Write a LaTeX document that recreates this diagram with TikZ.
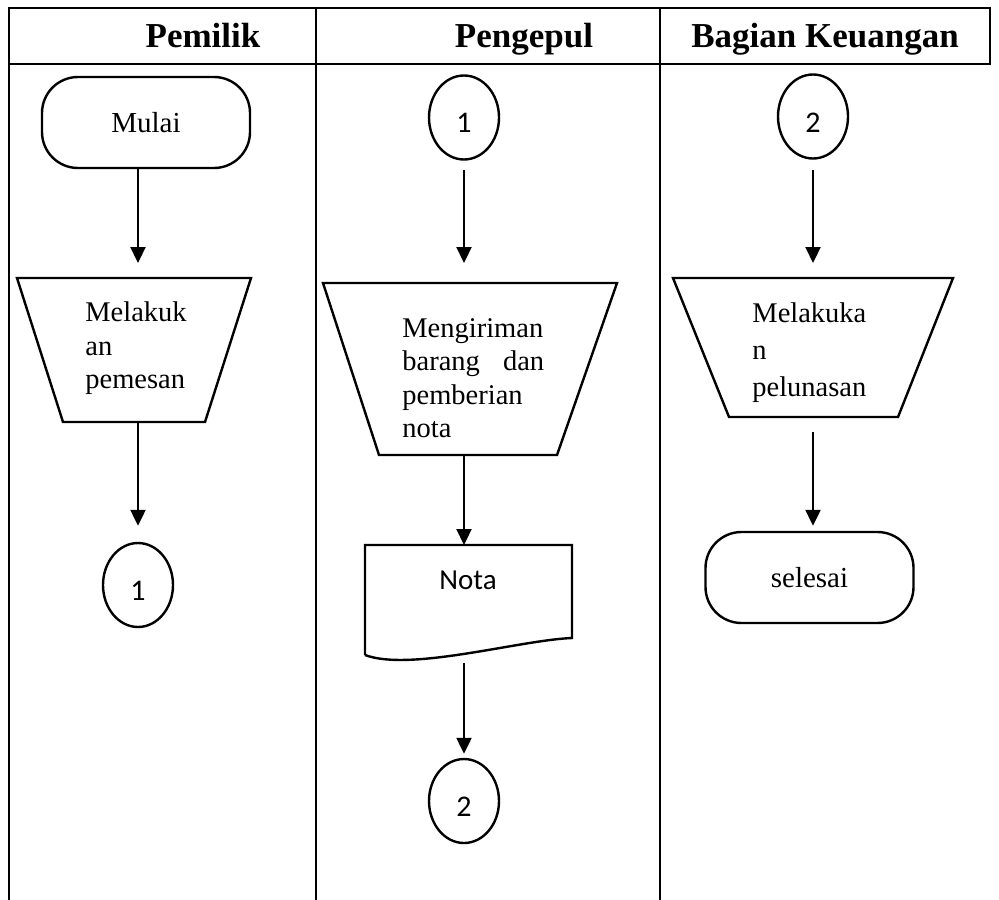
\documentclass[tikz,border=0pt]{standalone}
\usepackage{fontspec}
\setmainfont{Liberation Serif}
\newfontfamily\calibrifont{Carlito}
\usetikzlibrary{arrows.meta,shapes.geometric}

\tikzset{
  lane/.style={line width=1.4pt, line cap=rect},
  header/.style={anchor=base, font=\bfseries\fontsize{17.5}{21}\selectfont},
  flow/.style={-{Triangle[length=8pt,width=7.5pt]}, line width=1.1pt},
  outline/.style={line width=1.2pt, line join=miter},
  terminal/.style={draw, line width=1.2pt, rounded corners=18pt, minimum width=104pt,
    minimum height=45.5pt, inner sep=0pt, font=\fontsize{14.5}{17}\selectfont},
  connector/.style={draw, ellipse, line width=1.2pt, minimum width=35pt, minimum height=42pt,
    inner sep=0pt, text height=15.5pt, font=\calibrifont\fontsize{15}{18}\selectfont},
  manualtext/.style={anchor=north west, inner sep=0pt, align=left,
    font=\fontsize{14.25}{16.75}\selectfont}
}

\begin{document}
\begin{tikzpicture}[x=0.5pt,y=-0.5pt]
\useasboundingbox (0,0) rectangle (999,899);

% Draw the swimlane table
\draw[lane] (9,899) -- (9,8) -- (990,8) -- (990,64) -- (9,64);
\draw[lane] (316,8) -- (316,899);
\draw[lane] (660,8) -- (660,899);

% Lane headers
\node[header] (hPemilik) at (203,48) {Pemilik};
\node[header] (hPengepul) at (524,48) {Pengepul};
\node[header] (hKeuangan) at (825,48) {Bagian Keuangan};

% Define coordinates for the manual input shapes
\coordinate (trAtop) at (138,278);  % Pemilik
\coordinate (trAbot) at (138,422);
\coordinate (trBtop) at (464,283);  % Pengepul
\coordinate (trBbot) at (464,455);
\coordinate (trCtop) at (813,278);  % Bagian Keuangan
\coordinate (trCbot) at (813,417);
\coordinate (docTop) at (464,545);  % document Nota
\coordinate (docBot) at (464,653);

% Lane Pemilik
\node[terminal] (mulai) at (146,122.5) {Mulai};
\draw[outline] (17,278) -- (251,278) -- (205,422) -- (63,422) -- cycle;
\node[manualtext] (trA) at (85,301.5) {Melakuk\\an\\pemesan};
\node[connector] (c1a) at (138,585) {1};

% Lane Pengepul
\node[connector] (c1b) at (464,117.5) {1};
\draw[outline] (323,283) -- (617,283) -- (557,455) -- (379,455) -- cycle;
\node[manualtext] (trB) at (402,318) {Mengiriman\\barang\hspace{8pt} dan\\pemberian\\nota};
\draw[outline] (365,655) -- (365,545) -- (572,545) -- (572,638)
  .. controls (520,640) and (410,672) .. (365,655);
\node[font=\calibrifont\fontsize{14.5}{17}\selectfont] (nota) at (468,580) {Nota};
\node[connector] (c2a) at (464,801) {2};

% Lane Bagian Keuangan
\node[connector] (c2b) at (813,116.5) {2};
\draw[outline] (673,278) -- (953,278) -- (898,417) -- (729,417) -- cycle;
\node[manualtext, font=\fontsize{14.25}{18.5}\selectfont] (trC) at (752,302.5) {Melakuka\\n\\pelunasan};
\node[terminal] (selesai) at (809.5,577.5) {selesai};

% Draw the flow arrows
\draw[flow, shorten >=7.5pt] (mulai.south -| trAtop) -- (trAtop);
\draw[flow, shorten >=8pt] (trAbot) -- (c1a);
\draw[flow, shorten <=4.5pt, shorten >=10pt] (c1b) -- (trBtop);
\draw[flow] (trBbot) -- (docTop);
\draw[flow, shorten <=5pt, shorten >=2pt] (docBot) -- (c2a);
\draw[flow, shorten <=5pt, shorten >=7.5pt] (c2b) -- (trCtop);
\draw[flow, shorten <=7.5pt, shorten >=2.5pt] (trCbot) -- (trCbot |- selesai.north);

\end{tikzpicture}
\end{document}
